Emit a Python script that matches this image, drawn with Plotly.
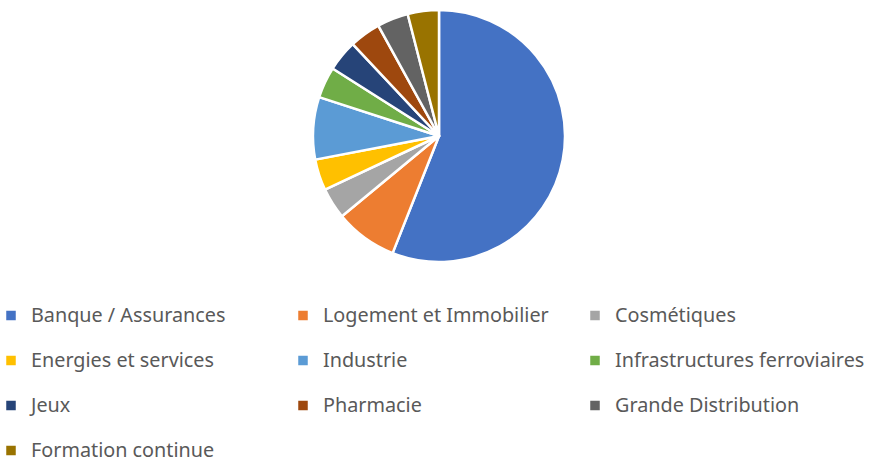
import plotly.graph_objects as go

categories = ["Banque / Assurances", "Logement et Immobilier", "Cosmétiques",
              "Energies et services", "Industrie", "Infrastructures ferroviaires",
              "Jeux", "Pharmacie", "Grande Distribution", "Formation continue"]
values = [14, 2, 1, 1, 2, 1, 1, 1, 1, 1]
colors = ["#4472C4", "#ED7D31", "#A5A5A5", "#FFC000", "#5B9BD5",
          "#70AD47", "#264478", "#9E480E", "#636363", "#997300"]

W, H = 875, 459
legend_labels = [" <br><span style='font-size:19.8px'>%s</span>" % c for c in categories]

fig = go.Figure(go.Pie(
    labels=legend_labels,
    values=values,
    sort=False,
    direction="clockwise",
    rotation=0,
    textinfo="none",
    hoverinfo="skip",
    marker=dict(colors=colors, line=dict(color="white", width=2.5)),
    domain=dict(x=[313 / W, 565 / W], y=[1 - 262 / H, 1 - 10 / H]),
))

fig.update_layout(
    width=W, height=H,
    margin=dict(l=0, r=0, t=0, b=0, autoexpand=False),
    paper_bgcolor="white",
    plot_bgcolor="white",
    font=dict(family="Noto Sans", color="#595959"),
    showlegend=True,
    legend=dict(
        orientation="h",
        x=429 / W, xanchor="center",
        y=1 - 277.5 / H, yanchor="top",
        valign="bottom",
        entrywidth=247, entrywidthmode="pixels",
        maxheight=220,
        font=dict(size=16.154, family="Noto Sans", color="#595959"),
        itemclick=False, itemdoubleclick=False,
        bgcolor="rgba(0,0,0,0)",
    ),
)

fig.write_html("out.html", config={"displayModeBar": False},
               post_script="document.body.style.margin='0';")
